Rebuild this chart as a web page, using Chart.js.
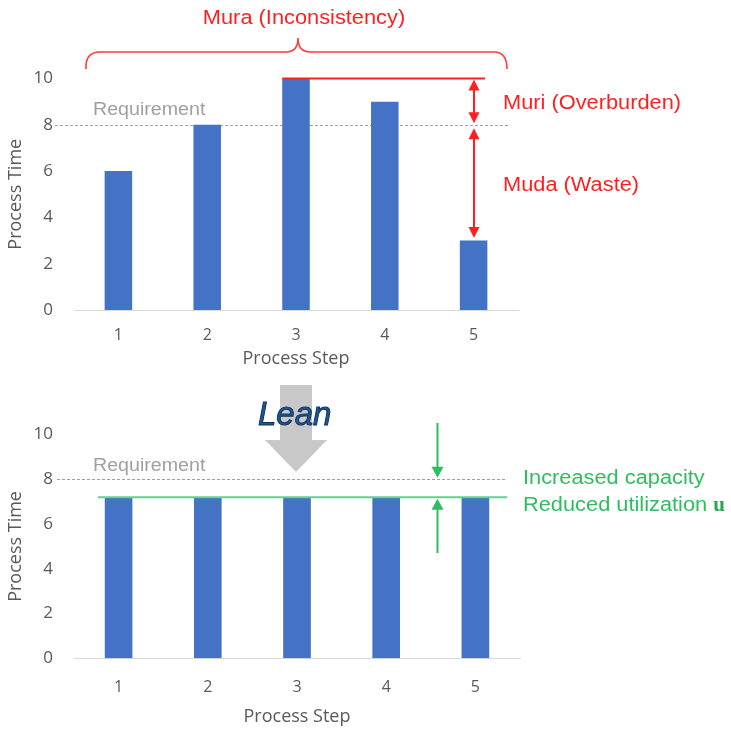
<!DOCTYPE html>
<html>
<head>
<meta charset="utf-8">
<script src="https://cdn.jsdelivr.net/npm/chart.js@4/dist/chart.umd.min.js"></script>
<style>
  html, body { margin: 0; padding: 0; background: #ffffff; }
  #wrap { position: relative; width: 731px; height: 729px; overflow: hidden; }
  #before { position: absolute; left: 0; top: 0; }
  #after { position: absolute; left: 0; top: 372px; }
</style>
</head>
<body>
<div id="wrap">
  <canvas id="before" width="731" height="372"></canvas>
  <canvas id="after" width="731" height="357"></canvas>
</div>
<script>
// Process steps and their process times before and after the lean changes
const steps = ['1', '2', '3', '4', '5'];
const timeBefore = [6, 8, 10, 9, 3];
const timeAfter = [7.2, 7.2, 7.2, 7.2, 7.2];
const requirement = 8;
const yMin = 0;
const yMax = 10;
const yStep = 2;

const BAR_BLUE = '#4472c4';
const RED = '#ff1f1f';
const GREEN_TEXT = '#2fbd5f';
const GREEN_LINE = '#5fd28d';
const REQ_GREY = '#a0a0a0';
const AXIS_GREY = '#595959';
const TEXT_STRETCH = 1.09;

// Draw a label horizontally widened a little, vertically centred on y
function wideText(ctx, str, x, y, font, color, align) {
  ctx.save();
  ctx.font = font;
  ctx.fillStyle = color;
  ctx.textBaseline = 'middle';
  ctx.textAlign = 'left';
  const w = ctx.measureText(str).width * TEXT_STRETCH;
  const x0 = align === 'center' ? x - w / 2 : x;
  ctx.translate(x0, y);
  ctx.scale(TEXT_STRETCH, 1);
  ctx.fillText(str, 0, 0);
  ctx.restore();
  return w;
}

// Filled triangular head, dir = 1 points down, dir = -1 points up
function arrowHead(ctx, x, tipY, dir, len, halfW, color) {
  ctx.save();
  ctx.fillStyle = color;
  ctx.beginPath();
  ctx.moveTo(x, tipY);
  ctx.lineTo(x - halfW, tipY - dir * len);
  ctx.lineTo(x + halfW, tipY - dir * len);
  ctx.closePath();
  ctx.fill();
  ctx.restore();
}

function vLine(ctx, x, y1, y2, color, lw) {
  ctx.save();
  ctx.strokeStyle = color;
  ctx.lineWidth = lw;
  ctx.beginPath();
  ctx.moveTo(x, y1);
  ctx.lineTo(x, y2);
  ctx.stroke();
  ctx.restore();
}

function hLine(ctx, x1, x2, y, color, lw, dash) {
  ctx.save();
  ctx.strokeStyle = color;
  ctx.lineWidth = lw;
  if (dash) ctx.setLineDash(dash);
  ctx.beginPath();
  ctx.moveTo(x1, y);
  ctx.lineTo(x2, y);
  ctx.stroke();
  ctx.restore();
}

function requirementLine(chart, x1, x2, labelY) {
  const ctx = chart.ctx;
  const y = Math.round(chart.scales.y.getPixelForValue(requirement)) + 0.5;
  hLine(ctx, x1, x2, y, REQ_GREY, 1, [3, 2]);
  wideText(ctx, 'Requirement', 93, labelY, "18px 'Liberation Sans'", REQ_GREY, 'left');
}

function baseOptions(padTop, padRight, xAxisHeight, tickPad, titlePadBottom) {
  return {
    responsive: false,
    devicePixelRatio: 1,
    animation: false,
    layout: { padding: { left: 0, top: padTop, right: padRight, bottom: 0 } },
    plugins: { legend: { display: false }, tooltip: { enabled: false } },
    scales: {
      x: {
        grid: { display: false, drawTicks: false },
        border: { display: true, color: '#d9d9d9', width: 1 },
        ticks: { color: AXIS_GREY, font: { family: "'Open Sans'", size: 16 }, padding: tickPad },
        title: {
          display: true, text: 'Process Step', color: AXIS_GREY,
          font: { family: "'Open Sans'", size: 18 },
          padding: { top: 0, bottom: titlePadBottom }
        },
        afterFit: (s) => { s.height = xAxisHeight; }
      },
      y: {
        min: yMin, max: yMax,
        grid: { display: false, drawTicks: false },
        border: { display: false },
        ticks: { stepSize: yStep, color: AXIS_GREY, font: { family: "'Open Sans'", size: 17 }, padding: 21 },
        title: {
          display: true, text: 'Process Time', color: AXIS_GREY,
          font: { family: "'Open Sans'", size: 18 },
          padding: { top: 5, bottom: 0 }
        },
        afterFit: (s) => { s.width = 74; }
      }
    }
  };
}

function barDataset(values) {
  return {
    data: values,
    backgroundColor: BAR_BLUE,
    borderWidth: 0,
    barPercentage: 0.31,
    categoryPercentage: 1.0
  };
}

// ---- Before: uneven process times with Mura / Muri / Muda annotations ----
const beforePlugin = {
  id: 'beforeNotes',
  beforeDatasetsDraw(chart) {
    requirementLine(chart, 55, 510, 110);
  },
  afterDatasetsDraw(chart) {
    const ctx = chart.ctx;
    const ys = chart.scales.y;
    const bars = chart.getDatasetMeta(0).data;
    const hi = Math.max(...timeBefore);
    const lo = Math.min(...timeBefore);
    const hiBar = bars[timeBefore.indexOf(hi)];
    const yHi = ys.getPixelForValue(hi);
    const yReq = ys.getPixelForValue(requirement);
    const yLo = ys.getPixelForValue(lo);

    // line level with the longest step
    hLine(ctx, hiBar.x - hiBar.width / 2, 485, yHi, RED, 2);

    // Muri arrow: requirement up to the longest step
    const ax = 474;
    vLine(ctx, ax, yHi + 8, yReq - 8, RED, 2);
    arrowHead(ctx, ax, yHi + 1, -1, 11, 5.5, RED);
    arrowHead(ctx, ax, yReq - 1.5, 1, 11, 5.5, RED);

    // Muda arrow: shortest step up to requirement
    vLine(ctx, ax, yReq + 12, yLo - 10, RED, 2);
    arrowHead(ctx, ax, yReq + 3.5, -1, 11, 5.5, RED);
    arrowHead(ctx, ax, yLo - 2.5, 1, 11, 5.5, RED);

    const f = "20px 'Liberation Sans'";
    wideText(ctx, 'Muri (Overburden)', 503, 103, f, RED, 'left');
    wideText(ctx, 'Muda (Waste)', 503, 185, f, RED, 'left');

    // brace spanning all steps
    ctx.save();
    ctx.strokeStyle = '#ff3a3a';
    ctx.lineWidth = 1.6;
    ctx.beginPath();
    ctx.moveTo(86, 69);
    ctx.quadraticCurveTo(85, 52, 100, 52);
    ctx.lineTo(286, 52);
    ctx.quadraticCurveTo(298, 52, 298, 38);
    ctx.quadraticCurveTo(298, 52, 310, 52);
    ctx.lineTo(494, 52);
    ctx.quadraticCurveTo(507, 52, 507, 69);
    ctx.stroke();
    ctx.restore();
    wideText(ctx, 'Mura (Inconsistency)', 304, 18, f, RED, 'center');
  }
};

new Chart(document.getElementById('before'), {
  type: 'bar',
  data: { labels: steps, datasets: [barDataset(timeBefore)] },
  options: baseOptions(78.5, 213, 372 - 310, 16, 2),
  plugins: [beforePlugin]
});

// ---- After: levelled process times below the requirement ----
const afterPlugin = {
  id: 'afterNotes',
  beforeDatasetsDraw(chart) {
    requirementLine(chart, 57, 507, 94);
  },
  afterDatasetsDraw(chart) {
    const ctx = chart.ctx;
    const ys = chart.scales.y;
    const level = timeAfter[0];
    const yLevel = ys.getPixelForValue(level);
    const yReq = ys.getPixelForValue(requirement);

    // common level line
    hLine(ctx, 98, 507, yLevel, GREEN_LINE, 2);

    // arrows closing in on the gap
    const gx = 437.5;
    vLine(ctx, gx, 51, yReq - 10, GREEN_TEXT, 2);
    arrowHead(ctx, gx, yReq - 1.5, 1, 11, 6, GREEN_TEXT);
    vLine(ctx, gx, yLevel + 10, 181, GREEN_TEXT, 2);
    arrowHead(ctx, gx, yLevel + 1.5, -1, 11, 6, GREEN_TEXT);

    const f = "20px 'Liberation Sans'";
    wideText(ctx, 'Increased capacity', 523, 106, f, GREEN_TEXT, 'left');
    const w = wideText(ctx, 'Reduced utilization ', 523, 133, f, GREEN_TEXT, 'left');
    ctx.save();
    ctx.font = "bold 21px 'Liberation Serif'";
    ctx.fillStyle = '#27a853';
    ctx.textBaseline = 'middle';
    ctx.fillText('u', 523 + w, 134);
    ctx.restore();

    // "Lean" transition arrow
    ctx.save();
    ctx.fillStyle = '#c8c8c8';
    ctx.beginPath();
    ctx.moveTo(280, 13);
    ctx.lineTo(312, 13);
    ctx.lineTo(312, 68);
    ctx.lineTo(327, 68);
    ctx.lineTo(296, 100);
    ctx.lineTo(265, 68);
    ctx.lineTo(280, 68);
    ctx.closePath();
    ctx.fill();
    ctx.font = "italic 33px 'Liberation Sans'";
    ctx.textBaseline = 'alphabetic';
    ctx.fillStyle = '#1d5796';
    ctx.strokeStyle = '#10335c';
    ctx.lineWidth = 1;
    ctx.fillText('Lean', 258, 53);
    ctx.strokeText('Lean', 258, 53);
    ctx.restore();
  }
};

new Chart(document.getElementById('after'), {
  type: 'bar',
  data: { labels: steps, datasets: [barDataset(timeAfter)] },
  options: baseOptions(62.6, 211, 357 - 286.3, 20, 1),
  plugins: [afterPlugin]
});
</script>
</body>
</html>
